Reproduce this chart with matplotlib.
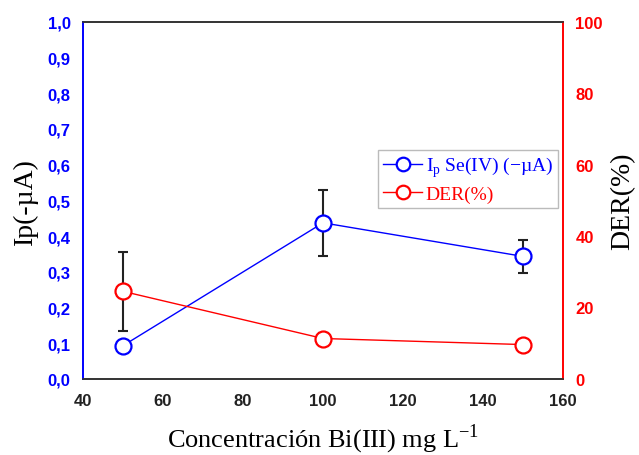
import matplotlib
matplotlib.use("Agg")
import matplotlib.pyplot as plt
from matplotlib.ticker import FuncFormatter, MultipleLocator

conc = [50, 100, 150]
ip_vals = [0.093, 0.437, 0.343]
ip_err = [0.0, 0.093, 0.046]
der_vals = [24.5, 11.3, 9.6]
der_err = [11.0, 1.5, 0.8]

x_ticks = [40, 60, 80, 100, 120, 140, 160]

serif = "Liberation Serif"
sans = "Liberation Sans"
plt.rcParams['mathtext.fontset'] = 'custom'
plt.rcParams['mathtext.rm'] = serif

fig = plt.figure(figsize=(6.39, 4.56), dpi=100)
ax1 = fig.add_axes([0.130, 0.167, 0.751, 0.783])
ax2 = ax1.twinx()

blue = "#0000ff"
red = "#ff0000"

ax1.errorbar(conc, ip_vals, yerr=ip_err, fmt='none', ecolor='#222222',
             elinewidth=1.5, capsize=3.5, capthick=1.5, zorder=2)
l1, = ax1.plot(conc, ip_vals, color=blue, lw=1.0, marker='o', ms=11.5,
               mfc='white', mec=blue, mew=1.6, zorder=3,
               label=r'I$_{\mathregular{p}}$ Se(IV) (−µA)')
ax2.errorbar(conc, der_vals, yerr=der_err, fmt='none', ecolor='#222222',
             elinewidth=1.5, capsize=3.5, capthick=1.5, zorder=2)
l2, = ax2.plot(conc, der_vals, color=red, lw=1.0, marker='o', ms=11.5,
               mfc='white', mec=red, mew=1.6, zorder=3, label='DER(%)')

ax1.set_xlim(40, 160)
ax1.set_ylim(0, 1.0)
ax2.set_ylim(0, 100)
ax1.set_xticks(x_ticks)
ax1.yaxis.set_major_locator(MultipleLocator(0.1))
ax2.yaxis.set_major_locator(MultipleLocator(20))
ax1.yaxis.set_major_formatter(FuncFormatter(lambda v, p: f"{v:.1f}".replace('.', ',')))

for ax in (ax1, ax2):
    ax.tick_params(length=0)
    ax.tick_params(axis='y', pad=9)
    ax.tick_params(axis='x', pad=10)
    for lab in ax.get_xticklabels() + ax.get_yticklabels():
        lab.set_fontfamily(sans)
        lab.set_fontweight('bold')
        lab.set_fontsize(12)

ax1.tick_params(axis='y', colors=blue)
ax2.tick_params(axis='y', colors=red)
ax1.tick_params(axis='x', colors='#222222')

for ax in (ax1, ax2):
    ax.spines['left'].set_color(blue)
    ax.spines['right'].set_color(red)
    ax.spines['top'].set_color('#333333')
    ax.spines['bottom'].set_color('#333333')
    for s in ax.spines.values():
        s.set_linewidth(1.2)

ax1.set_xlabel(r'Concentración Bi(III) mg L$^{\mathregular{-1}}$', fontfamily=serif,
               fontsize=19, labelpad=10)
ax1.set_ylabel('Ip(-µA)', fontfamily=serif, fontsize=20, labelpad=7)
ax2.set_ylabel('DER(%)', fontfamily=serif, fontsize=20, labelpad=5)

leg = ax2.legend([l1, l2], [l1.get_label(), l2.get_label()],
                 loc='upper left', bbox_to_anchor=(0.615, 0.641),
                 borderaxespad=0, frameon=True, fancybox=False,
                 prop={'family': serif, 'size': 14}, handlelength=2.0,
                 handletextpad=0.2, borderpad=0.25, labelspacing=0.3,
                 markerscale=0.85)
leg.get_frame().set_edgecolor('#aaaaaa')
leg.get_frame().set_linewidth(1.0)
for t, c in zip(leg.get_texts(), [blue, red]):
    t.set_color(c)

fig.savefig("out.png", dpi=100)
